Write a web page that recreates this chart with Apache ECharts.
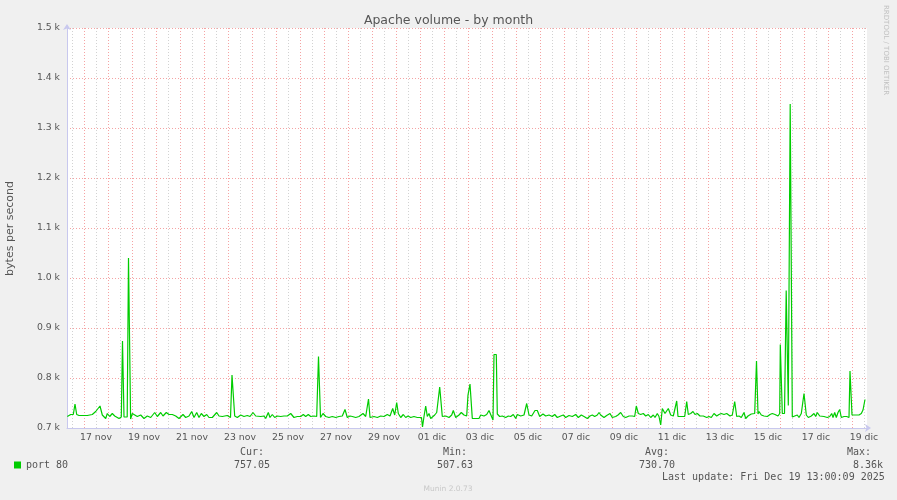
<!DOCTYPE html>
<html>
<head>
<meta charset="utf-8">
<script src="https://cdn.jsdelivr.net/npm/echarts@6/dist/echarts.min.js"></script>
<style>html,body{margin:0;padding:0;background:#f0f0f0;}#c{width:897px;height:500px;}</style>
</head>
<body>
<div id="c"></div>
<script>
// x positions: hours since Nov 16 07:00 (graph start); Nov 17 00:00 = hour 17
const hours = [0.3,3.7,6.3,8,9.7,12,20.3,22,25.3,28.7,30.3,33,35.3,37,38.7,40.3,42.7,45.3,47.7,49.7,52,54.3,55.5,56.3,57,60.2,61.5,63,63.6,65.3,67,70.3,73.7,77,80.3,83.7,87.7,90.3,93.7,96,99.3,102,105.3,108.7,112,116,118.7,122,124.7,127,129.7,132,134.3,137,139.7,142,145.3,149.7,152,155.3,160.3,163.5,165,166.3,167.7,170.3,173.7,177,180.3,183,186,188.7,193.7,197,
198.7,201.3,203,205.3,207.7,210.3,213.7,217,220.3,223.7,227,230.3,233.7,236.3,238.7,241.3,243.7,247,249.7,250.5,251.5,252.7,253.5,256,258.7,262,265.3,268.7,272,275.3,278,280.3,283,285.3,288.7,292,293.7,296,298.7,300.5,301.5,302.3,303,307,310.3,313.7,317,320.3,323,325.7,327.7,329.7,331.3,333.7,336.3,338.7,341,343.7,347,350.3,354.5,355.5,356.3,357,358.7,360.3,362,363.7,365.3,367.7,369.7,371,372.7,374,375.3,378.7,382,384.7,386.3,388.7,392,394.3,397,
399.7,401,403,404.3,405.3,412,413.7,417,419.7,422,424.3,426,427,429.3,430.3,432.7,435.3,438.7,441.3,443.7,446.3,448.7,450.3,453.7,457,459.7,462,464.7,468,470.3,472.7,476,478.7,482,485.3,487.7,490.3,493.7,496.3,498.7,502,505.3,508.7,511.3,514.3,517,520.3,523,525.3,527.7,530.3,532,533.7,537,539.7,543,545.3,548.7,551,553.7,556.3,558.7,562,565.3,567.7,569.3,571.3,573.7,576.3,578.7,581.3,583.7,586.3,588,590.3,592,593.7,595.3,598,
601.3,603.7,606.3,609.7,611,612.7,615.3,617.7,619.7,621.3,623.7,626,628,630.3,633,636.3,639.7,642,644.3,647,649.7,652,654.3,657,659.7,663,665.3,667.7,669.7,672,674.3,677,678.7,681,684.3,687.7,688.7,689.5,690.3,691,692,694.3,697,700.3,703,705.3,708,711,712.7,713.3,714.5,715.3,717.5,718.5,719.2,720.5,721.3,722.5,723.2,724.7,725.3,727.7,730.3,732,734.3,737,739.3,741.3,744.3,747,748.7,750.3,752.7,754.7,757,760.3,762.7,764.7,766,767.7,769.3,771,772.7,774.3,777,779.7,782,783,784.2,785,786,788.7,792,794.3,796,798];
const bytesPerSecond = [723,727,727,748,727,725,725,721,727,733,731,744,726,729,719,729,723,729,724,728,719,722,874,874,722,722,1040,1040,718,729,726,723,726,719,724,721,731,723,731,724,731,727,727,724,719,727,721,724,733,721,731,721,729,723,727,721,721,731,724,723,725,721,806,806,724,721,726,723,725,723,731,724,723,724,
719,731,721,727,721,724,723,724,724,729,721,723,723,727,723,727,723,724,723,723,843,843,721,729,723,721,723,721,723,724,737,721,724,723,721,723,726,729,723,724,758,758,721,723,721,724,723,727,724,739,726,751,729,721,727,721,724,721,723,721,721,702,702,723,744,723,729,719,723,726,731,735,782,782,723,724,721,726,735,721,726,731,726,
724,766,788,788,719,719,726,724,727,735,724,716,847,847,728,723,724,721,724,723,727,719,727,724,726,749,726,724,735,735,723,728,724,726,723,727,721,724,726,721,725,723,727,721,726,723,719,724,726,723,726,731,726,721,725,729,721,723,726,731,723,721,724,724,723,744,729,727,729,724,727,721,726,721,729,723,706,739,729,
739,726,724,754,723,727,723,723,753,727,729,733,727,729,724,724,721,723,721,729,724,727,729,727,729,724,726,753,723,724,721,731,719,724,728,729,730,834,834,728,733,726,724,723,727,729,727,724,729,867,867,729,729,729,975,975,745,745,1348,1348,722,724,726,721,729,769,726,721,724,729,723,731,724,727,723,721,723,729,721,731,721,731,737,721,723,723,721,814,814,726,726,726,726,729,736,757];
const tickLabels = ['17 nov','19 nov','21 nov','23 nov','25 nov','27 nov','29 nov','01 dic','03 dic','05 dic','07 dic','09 dic','11 dic','13 dic','15 dic','17 dic','19 dic'];
const statHeads = ['Cur:','Min:','Avg:','Max:'];
const statValues = ['757.05','507.63','730.70','8.36k'];

const START_H = 17;            // hours from graph start to Nov 17 00:00
const SPAN_H = 800;            // hours shown
const X_MIN = -START_H / 24;   // days relative to Nov 17 00:00
const X_MAX = (SPAN_H - START_H) / 24;
const seriesData = hours.map((h, i) => [(h - START_H) / 24, bytesPerSecond[i]]);

const chart = echarts.init(document.getElementById('c'), null, {renderer: 'canvas'});
const axisCol = '#c8c8ee';
const mono = 'DejaVu Sans Mono';
const PLOT_L = 67, PLOT_T = 28, PLOT_W = 800, PLOT_H = 400;
const pxPerDay = PLOT_W / (X_MAX - X_MIN);
const midL = PLOT_L + (0 - X_MIN) * pxPerDay;
const noonL = PLOT_L + (-0.5 - X_MIN) * pxPerDay;

const statHeadPos = [[240,452],[443,452],[645,452],[847,452]];
const statValPos = [[234,465],[437,465],[639,465],[853,465]];
const graphics = [];
statHeads.forEach((t, i) => graphics.push({type:'text', x:statHeadPos[i][0], y:statHeadPos[i][1], style:{text:t, fontFamily:mono, fontSize:10, fill:'#555', align:'left', verticalAlign:'middle'}}));
statValues.forEach((t, i) => graphics.push({type:'text', x:statValPos[i][0], y:statValPos[i][1], style:{text:t, fontFamily:mono, fontSize:10, fill:'#555', align:'left', verticalAlign:'middle'}}));
graphics.push({type:'text', x:662, y:477, style:{text:'Last update: Fri Dec 19 13:00:09 2025', fontFamily:mono, fontSize:10, fill:'#555', align:'left', verticalAlign:'middle'}});
graphics.push({type:'text', x:448, y:489, style:{text:'Munin 2.0.73', fontFamily:'DejaVu Sans', fontSize:7.5, fill:'#c8c8c8', align:'center', verticalAlign:'middle'}});
graphics.push({type:'text', x:886, y:5, rotation:-Math.PI/2, style:{text:'RRDTOOL / TOBI OETIKER', fontFamily:'DejaVu Sans', fontSize:7, fill:'#c0c0c0', align:'left', verticalAlign:'middle'}});
graphics.push({type:'text', x:10.5, y:228.5, rotation:Math.PI/2, style:{text:'bytes per second', fontFamily:'DejaVu Sans', fontSize:11, fill:'#555', align:'center', verticalAlign:'middle'}});

const hiddenY = (gi) => ({type: 'value', gridIndex: gi, min: 700, max: 1500, show: false});

chart.setOption({
  backgroundColor: '#f0f0f0',
  animation: false,
  title: {text: 'Apache volume - by month', left: 'center', top: 9, textStyle: {fontFamily: 'DejaVu Sans', fontSize: 12.5, fontWeight: 'normal', color: '#555'}},
  legend: {left: 9, top: 455, icon: 'rect', itemWidth: 7, itemHeight: 7, data: [{name: 'port 80', itemStyle: {color: '#00cc00'}}], textStyle: {fontFamily: mono, fontSize: 10, color: '#555'}},
  grid: [
    {left: PLOT_L, top: PLOT_T, width: PLOT_W, height: PLOT_H, show: true, backgroundColor: '#ffffff', borderWidth: 0},
    {left: noonL, top: PLOT_T, width: PLOT_L + PLOT_W - noonL, height: PLOT_H, show: false},
    {left: midL, top: PLOT_T, width: PLOT_L + PLOT_W - midL, height: PLOT_H, show: false}
  ],
  xAxis: [
    {
      type: 'value', gridIndex: 0, min: X_MIN, max: X_MAX,
      axisLine: {show: true, onZero: false, lineStyle: {color: axisCol, width: 1}, symbol: ['none', 'arrow'], symbolSize: [6, 6], symbolOffset: [0, 4]},
      axisTick: {show: false}, axisLabel: {show: false}, splitLine: {show: false}
    },
    {
      type: 'value', gridIndex: 1, min: -0.5, max: X_MAX, interval: 1,
      axisLine: {show: false}, axisTick: {show: false},
      axisLabel: {
        interval: 0, margin: 5, color: '#555', fontFamily: 'DejaVu Sans', fontSize: 9.3,
        formatter: function (v) {
          const k = (v - 0.5) / 2;
          const r = Math.round(k);
          if (Math.abs(k - r) < 1e-6 && r >= 0 && r < tickLabels.length) return tickLabels[r];
          return '';
        }
      },
      splitLine: {show: true, showMaxLine: false, lineStyle: {color: '#d2d2d2', type: [1, 2], width: 1}}
    },
    {
      type: 'value', gridIndex: 2, min: 0, max: X_MAX, interval: 1,
      axisLine: {show: false}, axisTick: {show: false}, axisLabel: {show: false},
      splitLine: {show: true, showMaxLine: false, lineStyle: {color: '#f5a3a3', type: [1, 2], width: 1}}
    }
  ],
  yAxis: [
    {
      type: 'value', gridIndex: 0, min: 700, max: 1500, interval: 100,
      axisLine: {show: true, onZero: false, lineStyle: {color: axisCol, width: 1}, symbol: ['none', 'arrow'], symbolSize: [6, 6], symbolOffset: [0, 4]},
      axisTick: {show: false},
      axisLabel: {margin: 7, color: '#555', fontFamily: 'DejaVu Sans', fontSize: 9.3, formatter: v => (v / 1000).toFixed(1) + ' k'},
      splitLine: {show: true, lineStyle: {color: '#f5a3a3', type: [1, 2], width: 1}}
    },
    hiddenY(1),
    hiddenY(2)
  ],
  series: [{
    name: 'port 80', type: 'line', xAxisIndex: 0, yAxisIndex: 0, data: seriesData, showSymbol: false, symbol: 'none',
    lineStyle: {color: '#00cc00', width: 1.2}, itemStyle: {color: '#00cc00'}, clip: true, z: 5
  }],
  graphic: graphics
});
</script>
</body>
</html>
